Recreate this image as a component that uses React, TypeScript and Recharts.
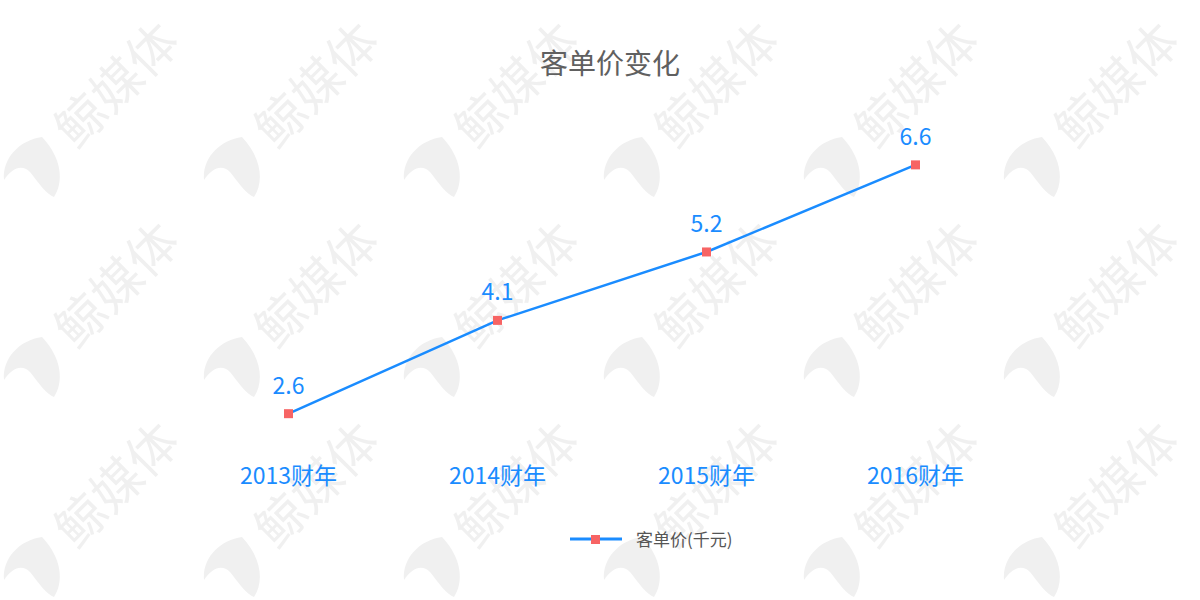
import { LineChart, Line, XAxis, YAxis, LabelList } from "recharts";

const YEARS = ["2013财年", "2014财年", "2015财年", "2016财年"];
const PRICE = [2.6, 4.1, 5.2, 6.6];

const BLUE = "#1a8cff";
const RED = "#f76464";
const FONT = "'Noto Sans CJK SC', 'Noto Sans', sans-serif";

const data = YEARS.map((year, i) => ({ year, price: PRICE[i] }));

function Watermark() {
  const tiles = [];
  for (let row = 0; row < 3; row++) {
    for (let col = 0; col < 6; col++) {
      tiles.push(
        <g key={`${row}-${col}`} transform={`translate(${col * 200},${row * 200})`}>
          <text
            x={0}
            y={0}
            transform="translate(120,88) rotate(-45)"
            textAnchor="middle"
            dominantBaseline="middle"
            fontSize={50}
            fontWeight={400}
            fill="#f0f0f0"
            fontFamily={FONT}
          >
            鲸媒体
          </text>
          <path
            d="M42 137 C 20 140, 2 158, 4 180 C 12 168, 22 164, 30 172 C 38 182, 46 194, 54 197 C 64 182, 62 158, 42 137 Z"
            fill="#f0f0f0"
          />
        </g>
      );
    }
  }
  return (
    <svg width={1200} height={600} style={{ position: "absolute", left: 0, top: 0 }}>
      {tiles}
    </svg>
  );
}

function Marker(props: any) {
  const { cx, cy } = props;
  if (cx == null || cy == null) return null;
  return <rect x={cx - 4.5} y={cy - 4.5} width={9} height={9} fill={RED} />;
}

export default function App() {
  return (
    <div style={{ position: "absolute", left: 0, top: 0, width: 1200, height: 600, background: "#fff", overflow: "hidden" }}>
      <Watermark />
      <div
        style={{
          position: "absolute",
          left: 0,
          top: 42,
          width: 1220,
          textAlign: "center",
          fontFamily: FONT,
          fontSize: 28,
          color: "#606060",
        }}
      >
        客单价变化
      </div>
      <div style={{ position: "absolute", left: 0, top: 0 }}>
        <LineChart width={1200} height={600} data={data} margin={{ top: 140, right: 180, bottom: 119, left: 184 }}>
          <XAxis
            dataKey="year"
            axisLine={false}
            tickLine={false}
            tickMargin={11}
            padding={{ left: 104.5, right: 104.5 }}
            tick={{ fill: BLUE, fontSize: 23, fontFamily: FONT }}
          />
          <YAxis hide domain={[2, 7]} />
          <Line
            type="linear"
            dataKey="price"
            stroke={BLUE}
            strokeWidth={2.5}
            dot={<Marker />}
            activeDot={false}
            isAnimationActive={false}
          >
            <LabelList dataKey="price" position="top" offset={20} fill={BLUE} fontSize={23} fontFamily={FONT} />
          </Line>
        </LineChart>
      </div>
      <div
        style={{
          position: "absolute",
          left: 570,
          top: 526,
          display: "flex",
          alignItems: "center",
          fontFamily: FONT,
        }}
      >
        <svg width={52} height={12} style={{ marginRight: 14 }}>
          <line x1={0} y1={6} x2={52} y2={6} stroke={BLUE} strokeWidth={3} />
          <rect x={21} y={2} width={9} height={9} fill={RED} />
        </svg>
        <span style={{ fontSize: 17, color: "#555" }}>客单价(千元)</span>
      </div>
    </div>
  );
}
